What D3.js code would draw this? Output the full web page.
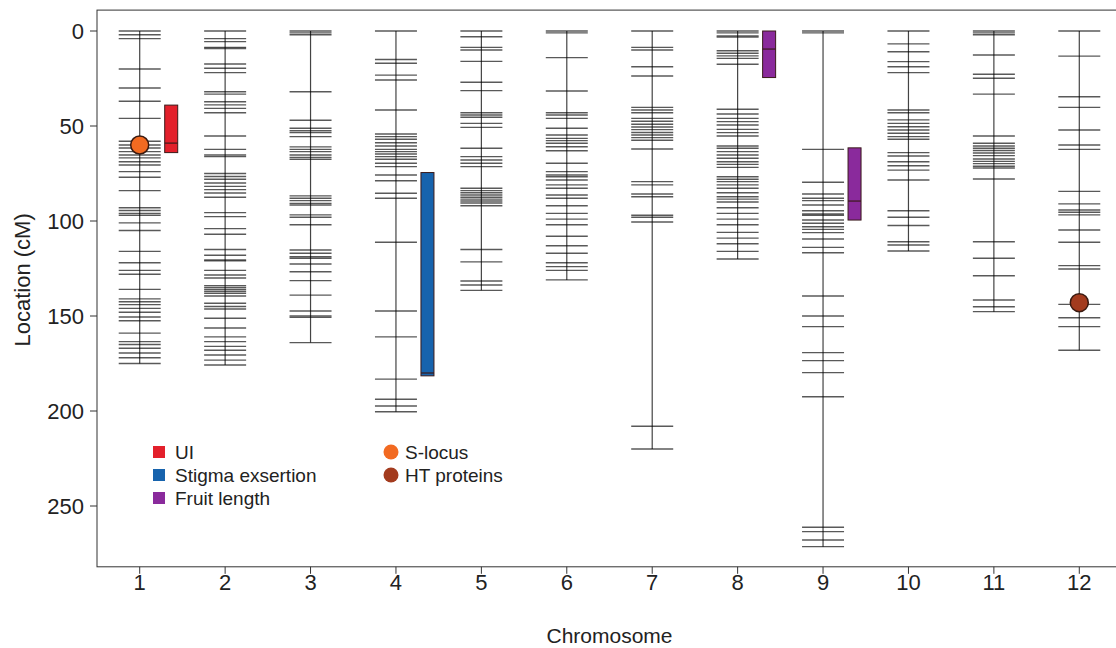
<!DOCTYPE html>
<html>
<head>
<meta charset="utf-8">
<script src="https://cdn.jsdelivr.net/npm/d3@7"></script>
<style>
body { margin: 0; background: #fff; }
text { font-family: "Liberation Sans", Arial, sans-serif; fill: #222; }
</style>
</head>
<body>
<svg id="chart" width="1116" height="648"></svg>
<script>
// marker positions (cM) per chromosome
let chr1 = [0, 2, 4, 20, 30, 37, 46, 58, 60, 61.6, 63.5, 65.3, 66.8, 68.8, 70.5, 74, 77, 84, 93, 94.5, 96, 97, 101, 105, 116, 122, 126, 128, 136, 141, 142.5, 144, 146, 148, 150.5, 152.5, 159, 163.5, 165, 167, 169.5, 172, 175];
let chr2 = [0, 4, 5.6, 8.6, 9.2, 17.4, 19.6, 21.9, 32, 33.2, 37.2, 38.9, 40.7, 43, 55.3, 62.3, 65.3, 66.1, 75, 76.6, 78, 80, 81.8, 83.5, 85.3, 87.5, 95.6, 97.7, 104, 107, 115, 118, 120.5, 121, 126, 128.4, 130, 134, 135, 136, 137, 138, 139.5, 143.3, 145, 146.3, 151.2, 156.3, 161, 163.5, 166, 168, 170.5, 173.2, 175.8];
let chr3 = [0, 1, 2, 32, 47, 51.2, 52.5, 53.5, 55.6, 61, 62.3, 63.5, 65.3, 66.5, 67.5, 86.8, 88, 89.3, 90.7, 91.6, 96.8, 98, 102, 115.3, 117, 118.8, 119.6, 122.6, 126.7, 131.4, 139, 147.4, 150, 150.7, 164];
let chr4 = [0, 15, 17, 23.2, 25.8, 41.6, 54.2, 55.6, 57, 58.8, 60.5, 62.3, 63.5, 64.7, 66.1, 67.5, 69.6, 71.4, 75.8, 78.8, 85.4, 88, 111.2, 147.4, 161, 183.2, 193.8, 197.4, 200.4];
let chr5 = [0, 3, 8.6, 10, 16, 27, 31.4, 43, 44.2, 45.4, 48.6, 50.7, 61.7, 66.1, 67.9, 69.6, 71.4, 82.8, 84, 85.1, 86.3, 87.5, 88.5, 89.5, 90.5, 92, 115, 121.5, 131.6, 133.7, 136.5];
let chr6 = [0, 1, 14, 31.6, 43, 44.2, 46, 51.2, 54.7, 56.5, 57.7, 59.1, 60.9, 63, 69.6, 74, 75.8, 76.7, 78.4, 81, 82.8, 86.3, 88, 92, 96, 99, 102, 108, 113, 117, 122, 124, 126, 131];
let chr7 = [0, 8.6, 10, 18.8, 23.7, 40.2, 41.6, 43, 46, 47.5, 49.1, 50.5, 51.9, 53.4, 54.7, 56.1, 57.5, 62.1, 79.3, 81, 85.8, 87.2, 97, 98, 100.5, 208, 220];
let chr8 = [0, 1, 2.6, 3.2, 10.4, 11.7, 13.1, 14.4, 17.5, 41.2, 43.7, 46, 47.7, 49.5, 51.8, 53.5, 55.3, 60.5, 61.7, 63.5, 65.3, 67, 68.8, 70.2, 71.8, 76.7, 78, 79.3, 81, 82.8, 85.1, 87.2, 88.5, 90, 93, 96, 99, 102, 106, 109, 112, 116, 120];
let chr9 = [0, 1, 62.3, 79.6, 85.8, 88, 89.3, 91.6, 94.6, 96.3, 97, 99.5, 101.2, 103, 104.4, 106.1, 109.5, 113.9, 116.7, 139.5, 150, 155.6, 169.3, 173.5, 179.8, 192.5, 261.2, 263.5, 267.9, 271.4];
let chr10 = [0, 6.8, 10.9, 16.1, 18.8, 21.9, 41.6, 43, 46.8, 48.6, 50.4, 52.1, 53.8, 55.6, 57, 64, 65.8, 68.8, 70.9, 73.2, 78.4, 94.6, 98, 102.4, 110.9, 112.6, 115.8];
let chr11 = [0, 1, 2, 12.6, 22.8, 24.9, 33.2, 55.3, 59.1, 60.5, 61.7, 62.9, 64.2, 65.6, 67.4, 68.6, 69.8, 71.2, 72.1, 77.9, 110.9, 119.6, 128.8, 141.6, 145.1, 147.7];
let chr12 = [0, 13.2, 34.6, 40.2, 52.1, 60, 62.3, 84.4, 91, 94.2, 95.4, 96.8, 104.7, 111.2, 123.5, 125.3, 143.9, 150.9, 155.6, 168];
let markers = [chr1, chr2, chr3, chr4, chr5, chr6, chr7, chr8, chr9, chr10, chr11, chr12];

// QTL intervals
let qtlTrait = ["UI", "Stigma exsertion", "Fruit length", "Fruit length"];
let qtlChr = [1, 4, 8, 9];
let qtlStart = [39, 74.5, 0, 61.5];
let qtlEnd = [64, 181.5, 24.5, 99.5];
let qtlPeak = [59, 180, 9.5, 89.5];

// single loci
let locusName = ["S-locus", "HT proteins"];
let locusChr = [1, 12];
let locusPos = [60, 143];

let traitColors = { "UI": "#e3202b", "Stigma exsertion": "#1763ad", "Fruit length": "#8a2a9c" };
let locusColors = { "S-locus": "#f26a21", "HT proteins": "#a33b1e" };
let yTicks = [0, 50, 100, 150, 200, 250];
let xTicks = [1, 2, 3, 4, 5, 6, 7, 8, 9, 10, 11, 12];

let svg = d3.select("#chart");
let x = d3.scaleLinear().domain([0.5, 12.5]).range([97, 1122]);
let y = d3.scaleLinear().domain([0, 250]).range([31, 506]);
let top_ = y(-11), bottom = y(282);

// box
svg.append("rect")
    .attr("x", x(0.5)).attr("y", top_)
    .attr("width", x(12.5) - x(0.5)).attr("height", bottom - top_)
    .style("fill", "none").style("stroke", "#333").style("stroke-width", 1);

// y axis
let gy = svg.append("g");
gy.selectAll().data(yTicks).enter().append("line")
    .attr("x1", x(0.5) - 7).attr("x2", x(0.5))
    .attr("y1", d => y(d)).attr("y2", d => y(d))
    .style("stroke", "#333");
gy.selectAll().data(yTicks).enter().append("text")
    .attr("x", x(0.5) - 13).attr("y", d => y(d) + 8)
    .attr("text-anchor", "end").style("font-size", "22px")
    .text(d => d);
svg.append("text")
    .attr("transform", "translate(30," + y(131) + ") rotate(-90)")
    .attr("text-anchor", "middle").style("font-size", "22px")
    .text("Location (cM)");

// x axis
let gx = svg.append("g");
gx.selectAll().data(xTicks).enter().append("line")
    .attr("x1", d => x(d)).attr("x2", d => x(d))
    .attr("y1", bottom).attr("y2", bottom + 7)
    .style("stroke", "#333");
gx.selectAll().data(xTicks).enter().append("text")
    .attr("x", d => x(d)).attr("y", bottom + 23)
    .attr("text-anchor", "middle").style("font-size", "22px")
    .text(d => d);
svg.append("text")
    .attr("x", x(6.5)).attr("y", 643)
    .attr("text-anchor", "middle").style("font-size", "21px")
    .text("Chromosome");

// chromosomes
for (let c = 0; c < markers.length; c++) {
    let cx = x(c + 1);
    let g = svg.append("g");
    g.append("line")
        .attr("x1", cx).attr("x2", cx)
        .attr("y1", y(0)).attr("y2", y(d3.max(markers[c])))
        .style("stroke", "#444").style("stroke-width", 1.2);
    g.selectAll().data(markers[c]).enter().append("line")
        .attr("x1", cx - 21).attr("x2", cx + 21)
        .attr("y1", d => y(d)).attr("y2", d => y(d))
        .style("stroke", "#000").style("stroke-opacity", 0.65).style("stroke-width", 1.4);
}

// QTL bars
for (let i = 0; i < qtlChr.length; i++) {
    let bx = x(qtlChr[i]) + 25;
    svg.append("rect")
        .attr("x", bx).attr("y", y(qtlStart[i]))
        .attr("width", 13).attr("height", y(qtlEnd[i]) - y(qtlStart[i]))
        .style("fill", traitColors[qtlTrait[i]])
        .style("stroke", "#3a1a1a").style("stroke-width", 1);
    svg.append("line")
        .attr("x1", bx).attr("x2", bx + 13)
        .attr("y1", y(qtlPeak[i])).attr("y2", y(qtlPeak[i]))
        .style("stroke", "#3a1a1a").style("stroke-width", 1.2);
}

// loci
svg.selectAll().data(locusName).enter().append("circle")
    .attr("cx", (d, i) => x(locusChr[i]))
    .attr("cy", (d, i) => y(locusPos[i]))
    .attr("r", 9)
    .style("fill", d => locusColors[d])
    .style("stroke", "#3a1a10").style("stroke-width", 1.5);

// legend
let legendTraits = ["UI", "Stigma exsertion", "Fruit length"];
let lg = svg.append("g");
lg.selectAll().data(legendTraits).enter().append("rect")
    .attr("x", 153).attr("y", (d, i) => 446 + i * 23)
    .attr("width", 12).attr("height", 12)
    .style("fill", d => traitColors[d]);
lg.selectAll().data(legendTraits).enter().append("text")
    .attr("x", 175).attr("y", (d, i) => 459 + i * 23)
    .style("font-size", "19px")
    .text(d => d);
lg.selectAll().data(locusName).enter().append("circle")
    .attr("cx", 391).attr("cy", (d, i) => 452 + i * 23)
    .attr("r", 7.5)
    .style("fill", d => locusColors[d]);
lg.selectAll().data(locusName).enter().append("text")
    .attr("x", 405).attr("y", (d, i) => 459 + i * 23)
    .style("font-size", "19px")
    .text(d => d);
</script>
</body>
</html>
